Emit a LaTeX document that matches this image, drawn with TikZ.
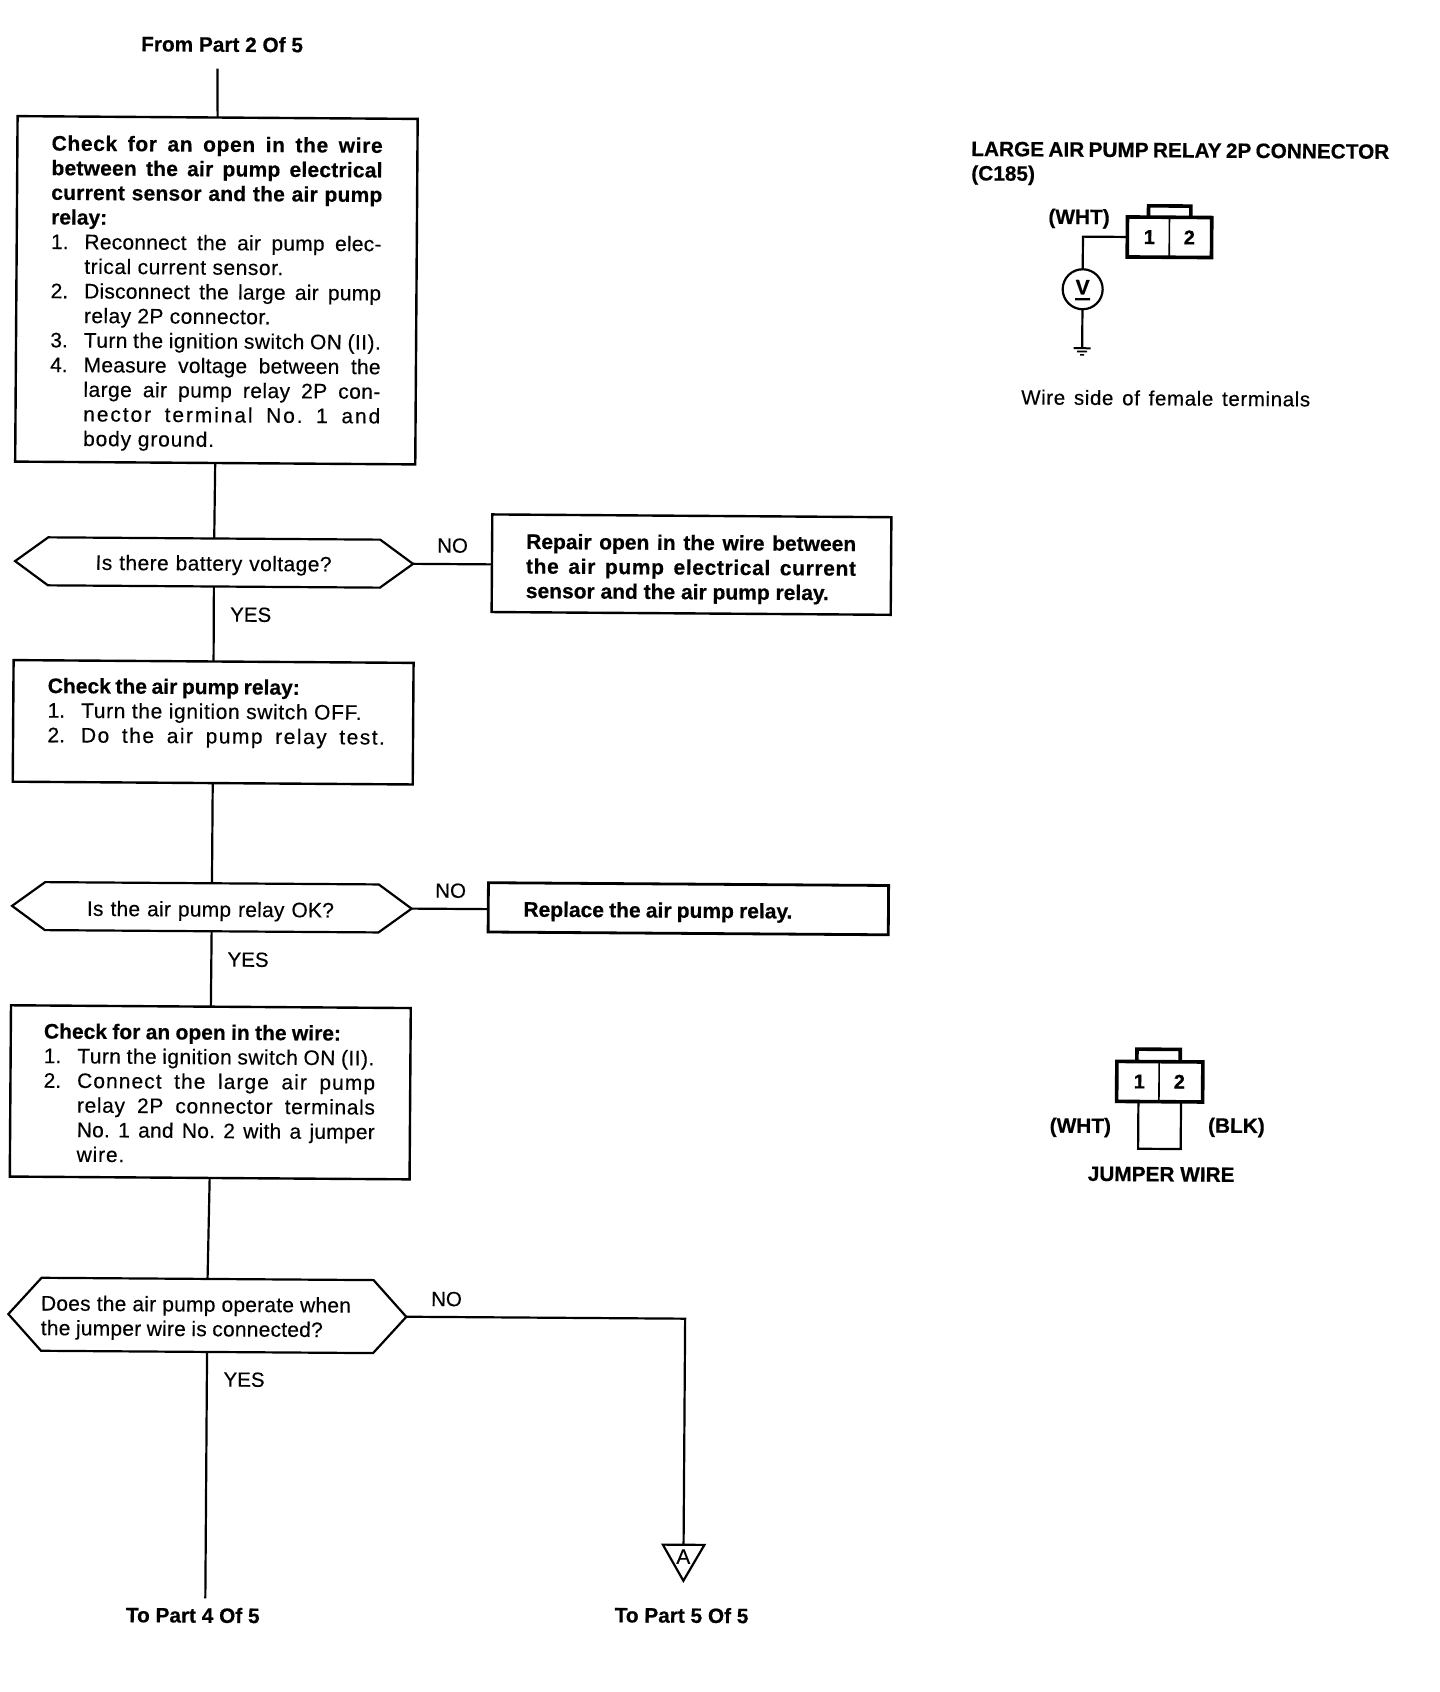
\documentclass[tikz,border=0pt]{standalone}
\usepackage{fontspec}
\setmainfont{Liberation Sans}[FakeBold=0.3,BoldFeatures={FakeBold=0.5}]
\usetikzlibrary{shapes.geometric}
\frenchspacing
\newcommand\ruleh{\rule{0pt}{16pt}}
\newcommand\jl[3][0]{\ruleh{\addfontfeature{LetterSpace=#1}\makebox[#2][s]{#3}}}
\newcommand\itm[4][0]{\ruleh\makebox[33.5pt][l]{#2}{\addfontfeature{LetterSpace=#1}\makebox[#3][s]{#4}}}
\newcommand\itn[3][0]{\ruleh\makebox[33.5pt][l]{#2}{\addfontfeature{LetterSpace=#1}#3}}
\newcommand\hexa[6]{%
  \draw[flow] ({#2-#4},#3) -- ({#2-#4+#6},{#3-#5}) -- ({#2+#4-#6},{#3-#5}) -- ({#2+#4},#3)
     -- ({#2+#4-#6},{#3+#5}) -- ({#2-#4+#6},{#3+#5}) -- cycle;
  \node[anchorbox, minimum width={2*#4*1pt}, minimum height={2*#5*1pt}] (#1) at (#2,#3) {};}
\tikzset{
  flow/.style={draw=black, line width=2.2pt, line join=miter},
  boxn/.style={draw=black, line width=2.4pt, inner sep=0pt, outer sep=0pt, rectangle},
  anchorbox/.style={inner sep=0pt, outer sep=0pt, rectangle},
  body/.style={inner sep=0pt, outer sep=0pt, anchor=north west, align=left,
     font=\fontsize{21}{24.6}\selectfont},
  lab/.style={inner sep=0pt, outer sep=0pt, anchor=base west, font=\fontsize{20.5}{24}\selectfont},
  blab/.style={inner sep=0pt, outer sep=0pt, anchor=base west, font=\bfseries\fontsize{20.8}{24.6}\selectfont},
  plug/.style={draw=black, line width=3.6pt, line join=miter},
  pin/.style={inner sep=0pt, outer sep=0pt, font=\bfseries\fontsize{20}{24}\selectfont},
}
\begin{document}
\begin{tikzpicture}[x=1pt,y=-1pt]
\useasboundingbox[fill=white] (0,0) rectangle (1440,1692);
\begin{scope}[rotate=-0.4, transform shape]
% terminals
\node[blab] (from) at (141.5,50.2) {From Part 2 Of 5};
\coordinate (start) at (218,67);
\node[blab] (to4) at (137.2,1621.3) {To Part 4 Of 5};
\node[blab] (to5) at (626,1618) {To Part 5 Of 5};
\coordinate (end4) at (216.5,1597);
% process boxes
\node[boxn, minimum width=400.1pt, minimum height=345.5pt] (b1) at (218.45,288.75) {};
\node[boxn, minimum width=400pt, minimum height=121.6pt] (b2) at (218.2,720.8) {};
\node[boxn, minimum width=399.1pt, minimum height=97.6pt] (b3) at (695.45,559.8) {};
\node[boxn, line width=2.8pt, minimum width=400.2pt, minimum height=49.3pt] (b5) at (694.7,903.95) {};
\node[boxn, minimum width=399.8pt, minimum height=171.3pt] (b4) at (217.9,1090.85) {};
% decisions
\hexa{d1}{218}{561}{199}{24}{33}
\hexa{d2}{218.15}{905.8}{199.8}{24}{33}
\hexa{d3}{216.5}{1314}{199}{36.5}{33}
% off-page triangle
\node[draw=black, line width=2.2pt, regular polygon, regular polygon sides=3, shape border rotate=180,
  minimum size=48pt, inner sep=0pt, outer sep=0pt] (tA) at (694.4,1552) {};
\node[inner sep=0pt, font=\fontsize{21}{24}\selectfont] (tAt) at (694.2,1551.9) {A};
% connectors
\draw[flow] (start) -- (b1.north);
\draw[flow] (b1.south) -- (d1.north);
\draw[flow] (d1.south) -- (b2.north);
\draw[flow] (b2.south) -- (d2.north);
\draw[flow] (d2.south) -- (b4.north);
\draw[flow] (b4.south) -- (d3.north);
\draw[flow] (d3.south) -- (end4);
\draw[flow] (d1.east) -- (d1.east -| b3.west);
\draw[flow] (d2.east) -- (d2.east -| b5.west);
\draw[flow] (d3.east) -| (tA.north);
% box texts
\node[body] (t1) at (52.7,134.2) {%
  {\bfseries\jl[3]{331pt}{Check for an open in the wire}}\\
  {\bfseries\jl[1]{331pt}{between the air pump electrical}}\\
  {\bfseries\jl[1]{331pt}{current sensor and the air pump}}\\
  {\bfseries\ruleh relay:}\\
  \itm[1]{1.}{297pt}{Reconnect the air pump elec-}\\
  \itn[2.5]{}{trical current sensor.}\\
  \itm[1]{2.}{297pt}{Disconnect the large air pump}\\
  \itn[2]{}{relay 2P connector.}\\
  \itm[2]{3.}{297pt}{Turn the ignition switch ON (II).}\\
  \itm[1]{4.}{297pt}{Measure voltage between the}\\
  \itm[2]{}{297pt}{large air pump relay 2P con-}\\
  \itm[9]{}{297pt}{nector terminal No. 1 and}\\
  \itn[4]{}{body ground.}};
\node[body] (t2) at (52.6,676.7) {%
  {\bfseries\jl{252pt}{Check the air pump relay:}}\\
  \itn[3]{1.}{Turn the ignition switch OFF.}\\
  \itm[7]{2.}{304pt}{Do the air pump relay test.}};
\node[body] (t3) at (530,529.2) {%
  {\bfseries\jl{330pt}{Repair open in the wire between}}\\
  {\bfseries\jl[3]{330pt}{the air pump electrical current}}\\
  {\bfseries\ruleh sensor and the air pump relay.}};
\node[body] (t5) at (529.8,897) {{\bfseries\jl{269pt}{Replace the air pump relay.}}};
\node[body] (t4) at (51.2,1022.2) {%
  {\bfseries\jl{297pt}{Check for an open in the wire:}}\\
  \itm[2]{1.}{297pt}{Turn the ignition switch ON (II).}\\
  \itm[5]{2.}{298pt}{Connect the large air pump}\\
  \itm[3]{}{298pt}{relay 2P connector terminals}\\
  \itm[1]{}{298pt}{No. 1 and No. 2 with a jumper}\\
  \itn[4]{}{wire.}};
\node[body] (q1) at (99.5,553.2) {\jl[2]{236pt}{Is there battery voltage?}};
\node[body] (q2) at (93.3,899.2) {\jl[1]{247pt}{Is the air pump relay OK?}};
\node[body] (q3) at (50.1,1294.2) {\jl[1]{310pt}{Does the air pump operate when}\\ \jl[1]{282pt}{the jumper wire is connected?}};
% branch labels
\node[lab] (no1) at (441,549.5) {NO};
\node[lab] (yes1) at (234.5,620) {YES};
\node[lab] (no2) at (441.5,894.6) {NO};
\node[lab] (yes2) at (234.3,965) {YES};
\node[lab] (no3) at (440.2,1303) {NO};
\node[lab] (yes3) at (233.2,1385) {YES};
% upper connector figure
\node[blab] (title) at (972.4,149.2) {\makebox[418pt][s]{LARGE AIR PUMP RELAY 2P CONNECTOR}};
\node[blab] (c185) at (972.6,173.6) {(C185)};
\node[blab] (wht1) at (1050,216.5) {(WHT)};
\node[draw=black, line width=3.6pt, inner sep=0pt, outer sep=0pt, minimum width=84.3pt, minimum height=40pt] (c1) at (1171.15,229.1) {};
\draw[plug] (1150,209.1) |- (1192.3,197.8) -- (1192.3,209.1);
\draw[line width=1.6pt] (c1.north -| 1171,0) -- (c1.south -| 1171,0);
\node[pin] (c1a) at (1151,229.1) {1};
\node[pin] (c1b) at (1191,229.1) {2};
\node[draw=black, line width=2.2pt, circle, minimum size=40pt, inner sep=0pt, outer sep=0pt] (vm) at (1084.7,281.7) {};
\node[inner sep=0pt, font=\bfseries\fontsize{21}{24}\selectfont] (vmt) at ([yshift=2pt]vm.center) {V};
\draw[line width=2.2pt] ([xshift=-7.5pt,yshift=-10pt]vm.center) -- ([xshift=7.5pt,yshift=-10pt]vm.center);
\coordinate (gnd) at (1084.7,340.7);
\draw[flow] (c1.west) -| (vm.north);
\draw[flow] (vm.south) -- (gnd);
\draw[line width=2pt] ([xshift=-8.5pt]gnd) -- ([xshift=8.5pt]gnd);
\draw[line width=1.6pt] ([xshift=-5pt,yshift=-3.3pt]gnd) -- ([xshift=5pt,yshift=-3.3pt]gnd);
\draw[line width=1.4pt] ([xshift=-2pt,yshift=-6.6pt]gnd) -- ([xshift=2pt,yshift=-6.6pt]gnd);
\node[lab] (wire) at (1024,397.3) {\jl[3]{289pt}{Wire side of female terminals}};
% lower connector figure
\node[draw=black, line width=3.6pt, inner sep=0pt, outer sep=0pt, minimum width=86pt, minimum height=40pt] (c2) at (1167.3,1073.6) {};
\draw[plug] (1144.3,1053.6) |- (1187.6,1041.2) -- (1187.6,1053.6);
\draw[line width=1.6pt] (c2.north -| 1166.6,0) -- (c2.south -| 1166.6,0);
\node[pin] (c2a) at (1146.9,1073.5) {1};
\node[pin] (c2b) at (1186.9,1073.5) {2};
\coordinate (jl) at (1146.2,1140.9);
\coordinate (jr) at (1188.8,1140.9);
\draw[flow] (c2.south -| jl) -- (jl) -- (jr) -- (c2.south -| jr);
\node[blab] (wht2) at (1057.6,1125.3) {(WHT)};
\node[blab] (blk) at (1216,1124.2) {(BLK)};
\node[blab] (jump) at (1096,1173.3) {JUMPER WIRE};
\end{scope}
\end{tikzpicture}
\end{document}
